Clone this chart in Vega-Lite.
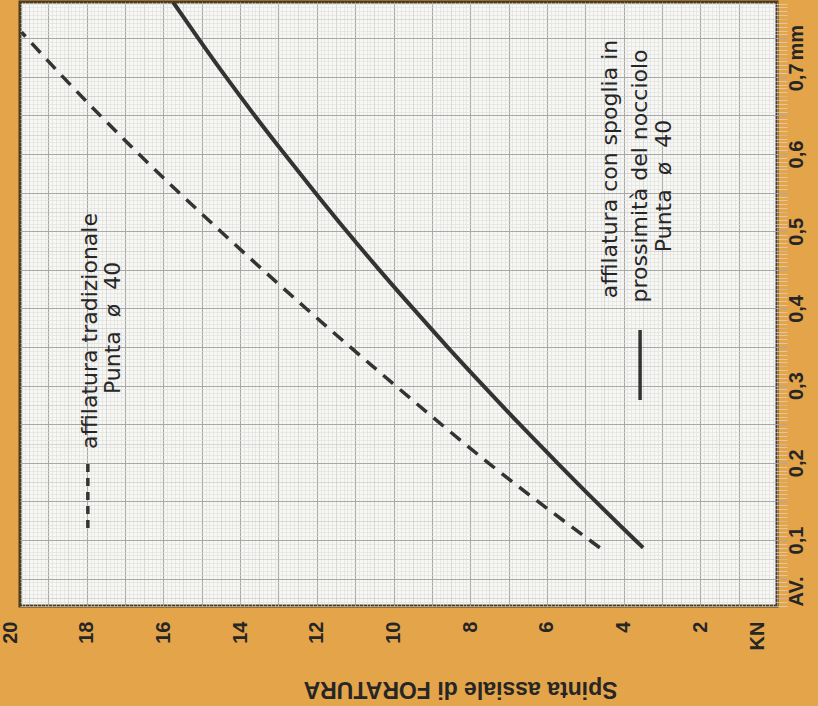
{
  "$schema": "https://vega.github.io/schema/vega-lite/v6.json",
  "width": 757,
  "height": 604,
  "autosize": {"type": "none"},
  "padding": {"left": 20, "top": 2, "right": 41, "bottom": 100},
  "background": "#E4A44A",
  "config": {
    "view": {"fill": "#F7F7F4", "stroke": "#4a3a1e", "strokeWidth": 3},
    "font": "Liberation Sans"
  },
  "datasets": {
    "tradizionale": [
      {"AV": 0.09, "KN": 4.62},
      {"AV": 0.2, "KN": 7.53},
      {"AV": 0.3, "KN": 9.95},
      {"AV": 0.4, "KN": 12.28},
      {"AV": 0.5, "KN": 14.51},
      {"AV": 0.6, "KN": 16.64},
      {"AV": 0.7, "KN": 18.62},
      {"AV": 0.758, "KN": 19.7}
    ],
    "spoglia": [
      {"AV": 0.09, "KN": 3.49},
      {"AV": 0.1, "KN": 3.7},
      {"AV": 0.15, "KN": 4.73},
      {"AV": 0.2, "KN": 5.73},
      {"AV": 0.25, "KN": 6.71},
      {"AV": 0.3, "KN": 7.66},
      {"AV": 0.35, "KN": 8.59},
      {"AV": 0.4, "KN": 9.49},
      {"AV": 0.45, "KN": 10.37},
      {"AV": 0.5, "KN": 11.22},
      {"AV": 0.55, "KN": 12.04},
      {"AV": 0.6, "KN": 12.84},
      {"AV": 0.65, "KN": 13.62},
      {"AV": 0.7, "KN": 14.37},
      {"AV": 0.75, "KN": 15.09},
      {"AV": 0.797, "KN": 15.75}
    ],
    "testi": [
      {"AV": 0.3708, "KN": 17.91, "testo": "affilatura tradizionale"},
      {"AV": 0.3747, "KN": 17.31, "testo": "Punta\u00a0\u00a0ø\u00a0\u00a040"},
      {"AV": 0.5806, "KN": 4.35, "testo": "affilatura con spoglia in"},
      {"AV": 0.5716, "KN": 3.57, "testo": "prossimità del nocciolo"},
      {"AV": 0.5586, "KN": 2.95, "testo": "Punta\u00a0\u00a0ø\u00a0\u00a040"}
    ],
    "legenda": [
      {"tipo": "tradizionale", "KN": 17.97, "AV1": 0.1155, "AV2": 0.1998},
      {"tipo": "spoglia", "KN": 3.57, "AV1": 0.2814, "AV2": 0.372}
    ]
  },
  "layer": [
    {
      "data": {"name": "tradizionale"},
      "mark": {"type": "line", "color": "#333333", "strokeWidth": 3.5, "strokeDash": [13, 9], "interpolate": "monotone", "clip": true},
      "encoding": {
        "x": {
          "field": "KN", "type": "quantitative",
          "scale": {"domain": [0, 20], "range": [757, -10], "nice": false, "zero": false},
          "axis": {
            "orient": "bottom", "grid": true, "labels": false, "ticks": false, "domain": false, "title": null,
            "tickCount": 200, "gridWidth": 0.6,
            "gridColor": {"condition": {"test": "abs(datum.value*2 - round(datum.value*2)) < 0.001", "value": "#c2c2c2"}, "value": "#dedede"},
            "gridOpacity": {"condition": {"test": "datum.value > 19.75", "value": 0}, "value": 1}
          }
        },
        "y": {
          "field": "AV", "type": "quantitative",
          "scale": {"domain": [0.0145, 0.797], "nice": false, "zero": false},
          "axis": {
            "orient": "right", "grid": true, "labels": false, "ticks": false, "domain": false, "title": null,
            "tickCount": 160, "gridWidth": 0.6,
            "gridColor": {"condition": {"test": "abs(datum.value*40 - round(datum.value*40)) < 0.001", "value": "#c2c2c2"}, "value": "#dedede"}
          }
        },
        "order": {"field": "AV", "type": "quantitative"}
      }
    },
    {
      "data": {"name": "spoglia"},
      "mark": {"type": "line", "color": "#333333", "strokeWidth": 4, "interpolate": "monotone", "clip": true},
      "encoding": {
        "x": {
          "field": "KN", "type": "quantitative",
          "scale": {"domain": [0, 20], "range": [757, -10], "nice": false, "zero": false},
          "axis": {
            "orient": "bottom", "grid": true, "labels": false, "ticks": false, "domain": false, "title": null,
            "values": [1, 2, 3, 4, 5, 6, 7, 8, 9, 10, 11, 12, 13, 14, 15, 16, 17, 18, 19],
            "gridColor": "#a8a8a8", "gridWidth": 1.1
          }
        },
        "y": {
          "field": "AV", "type": "quantitative",
          "scale": {"domain": [0.0145, 0.797], "nice": false, "zero": false},
          "axis": {
            "orient": "right", "grid": true, "labels": false, "ticks": false, "domain": false, "title": null,
            "values": [0.05, 0.1, 0.15, 0.2, 0.25, 0.3, 0.35, 0.4, 0.45, 0.5, 0.55, 0.6, 0.65, 0.7, 0.75],
            "gridColor": "#a8a8a8", "gridWidth": 1.1
          }
        },
        "order": {"field": "AV", "type": "quantitative"}
      }
    },
    {
      "data": {"name": "testi"},
      "mark": {"type": "text", "angle": 270, "align": "center", "baseline": "middle", "font": "DejaVu Sans", "fontSize": 22, "color": "#262626"},
      "encoding": {
        "x": {
          "field": "KN", "type": "quantitative",
          "scale": {"domain": [0, 20], "range": [757, -10], "nice": false, "zero": false},
          "axis": {
            "orient": "bottom", "grid": false, "ticks": false, "domain": false,
            "values": [20, 18, 16, 14, 12, 10, 8, 6, 4, 2, 0.52],
            "labelExpr": "datum.value < 1 ? 'KN' : datum.label",
            "labelAngle": 270, "labelAlign": "right", "labelBaseline": "middle", "labelPadding": 15,
            "labelFont": "Liberation Sans", "labelFontWeight": "bold", "labelFontSize": 20, "labelColor": "#262626",
            "labelOverlap": false, "labelFlush": false, "labelBound": false,
            "title": "Spinta assiale di FORATURA", "titleAngle": 180, "titleX": 440, "titleY": 82,
            "titleAlign": "center", "titleBaseline": "middle",
            "titleFont": "Liberation Sans", "titleFontSize": 23, "titleFontWeight": "bold", "titleColor": "#262626"
          }
        },
        "y": {
          "field": "AV", "type": "quantitative",
          "scale": {"domain": [0.0145, 0.797], "nice": false, "zero": false},
          "axis": {
            "orient": "right", "grid": false, "ticks": false, "domain": false, "title": null,
            "values": [0.034, 0.1, 0.2, 0.3, 0.4, 0.5, 0.6, 0.7, 0.745],
            "labelExpr": "datum.value < 0.05 ? 'AV.' : (datum.value > 0.72 ? 'mm' : replace(format(datum.value, '.1f'), '.', ','))",
            "labelAngle": 270, "labelAlign": "center", "labelBaseline": "top", "labelPadding": 9,
            "labelFont": "Liberation Sans", "labelFontWeight": "bold", "labelFontSize": 20, "labelColor": "#262626",
            "labelOverlap": false, "labelFlush": false, "labelBound": false
          }
        },
        "text": {"field": "testo", "type": "nominal"}
      }
    },
    {
      "data": {"name": "legenda"},
      "mark": {"type": "rule", "color": "#333333", "strokeWidth": 3.5},
      "encoding": {
        "x": {"field": "KN", "type": "quantitative", "scale": {"domain": [0, 20], "range": [757, -10], "nice": false, "zero": false}, "axis": null},
        "y": {"field": "AV1", "type": "quantitative", "scale": {"domain": [0.0145, 0.797], "nice": false, "zero": false}, "axis": null},
        "y2": {"field": "AV2"},
        "strokeDash": {"field": "tipo", "type": "nominal", "scale": {"domain": ["tradizionale", "spoglia"], "range": [[8, 6], [1, 0]]}, "legend": null}
      }
    }
  ],
  "resolve": {"axis": {"x": "independent", "y": "independent"}}
}
